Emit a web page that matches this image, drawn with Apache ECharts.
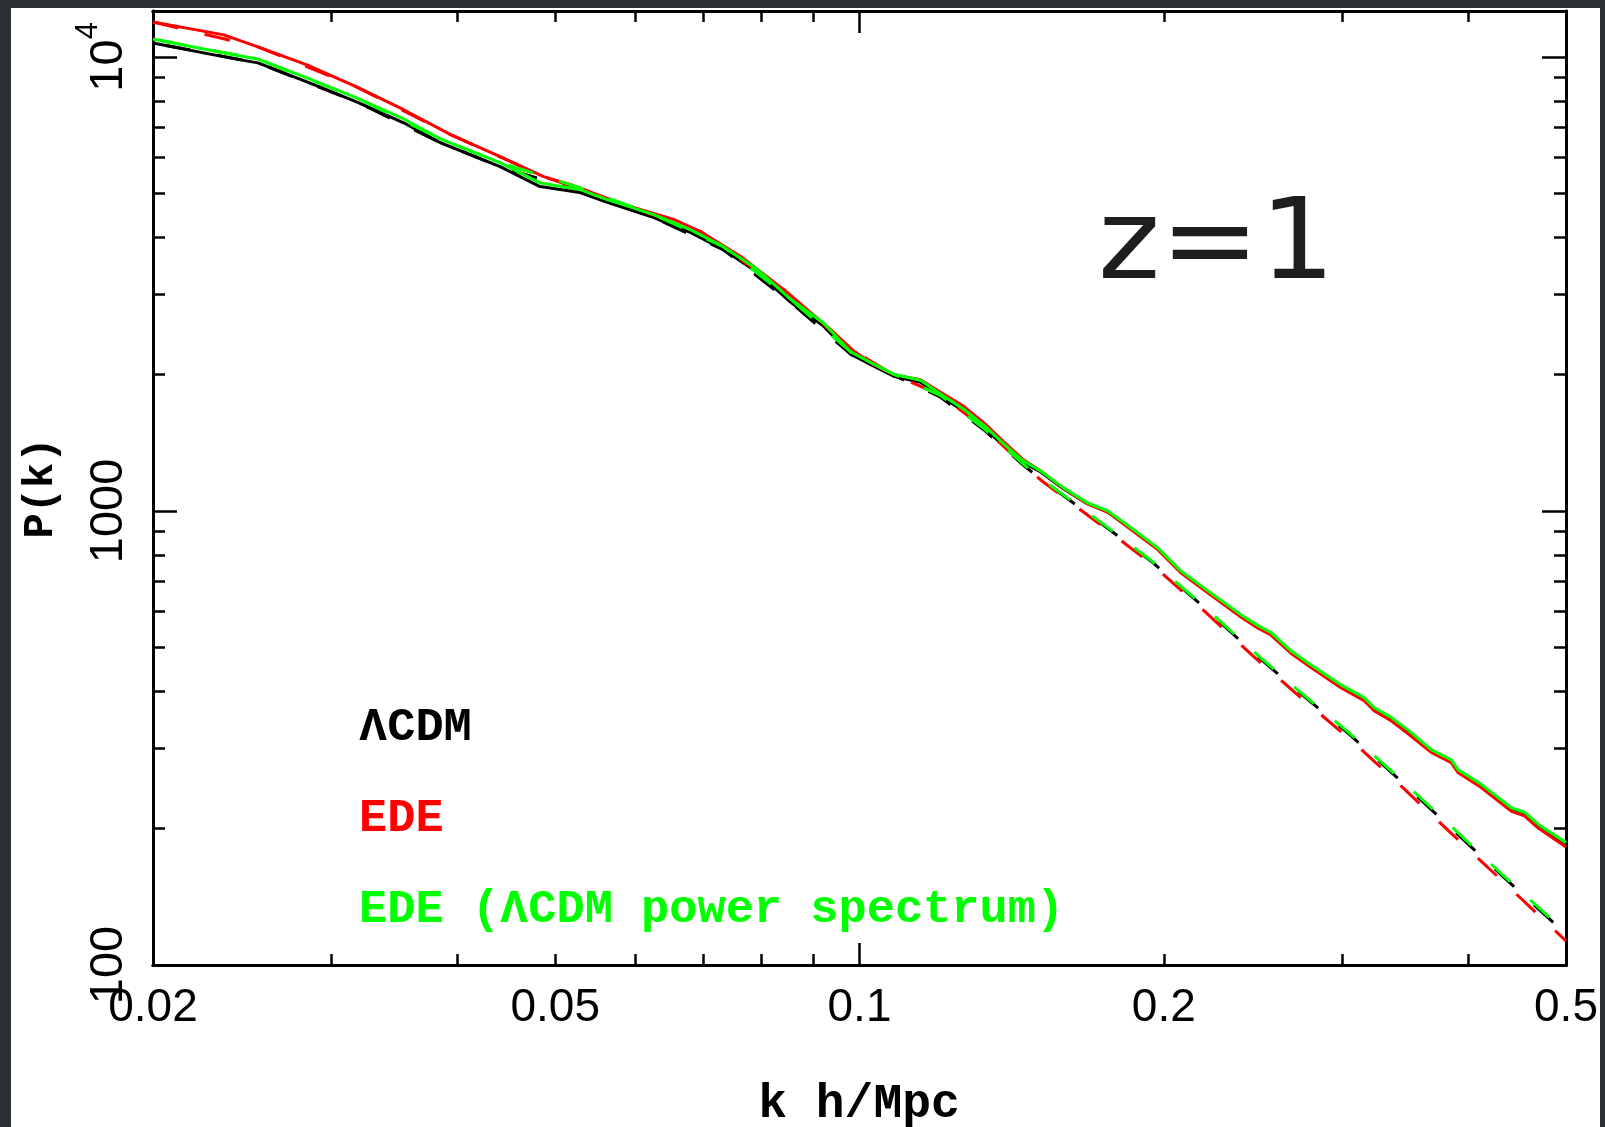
<!DOCTYPE html>
<html><head><meta charset="utf-8">
<script src="https://cdn.jsdelivr.net/npm/echarts@6/dist/echarts.min.js"></script>
<style>
html,body{margin:0;padding:0;background:#2c3034;width:1605px;height:1127px;overflow:hidden;}
#paper{position:absolute;left:11px;top:8px;width:1589px;height:1119px;background:#fff;}
#c{position:absolute;left:0;top:0;width:1605px;height:1127px;}
</style></head>
<body><div id="paper"></div><div id="c"></div>
<script>
// ---- data (k in h/Mpc, P(k)) ----
const kNL = [0.0200,0.0238,0.0254,0.0284,0.0318,0.0354,0.0385,0.0441,0.0483,0.0529,0.0563,0.0625,0.0681,0.0733,0.0793,0.0855,0.0922,0.0980,0.1033,0.1081,0.1149,0.1203,0.1268,0.1327,0.1389,0.1450,0.1511,0.1592,0.1682,0.1761,0.1856,0.1973,0.2079,0.2211,0.2384,0.2479,0.2553,0.2672,0.2797,0.2994,0.3157,0.3229,0.3357,0.3490,0.3678,0.3850,0.3912,0.4122,0.4415,0.4548,0.4696,0.5000];
const pLcdm = [10730,9950,9700,8810,7960,7160,6470,5730,5180,5025,4780,4430,4100,3765,3350,2880,2550,2215,2083,1980,1920,1790,1660,1530,1390,1280,1218,1118,1036,995,913,825,734,664,588,556,537,490,456,412,386,367,349,327,297,282,268,249,221,216,203,185];
const pEdeLps = [10950,10150,9890,8990,8120,7300,6600,5850,5280,5100,4850,4500,4160,3820,3400,2925,2590,2240,2105,2000,1940,1810,1675,1545,1405,1293,1225,1124,1041,1000,918,829,738,667,591,559,540,492,458,414,388,369,351,329,298,283,269,250,222,217,204,186];
const kEde = [0.0200,0.0235,0.0254,0.0284,0.0318,0.0354,0.0394,0.0441,0.0487,0.0518,0.0584,0.0655,0.0696,0.0763,0.0841,0.0936,0.0987,0.1033,0.1081,0.1149,0.1203,0.1268,0.1327,0.1389,0.1450,0.1511,0.1592,0.1682,0.1761,0.1856,0.1973,0.2079,0.2211,0.2384,0.2479,0.2553,0.2672,0.2797,0.2994,0.3157,0.3229,0.3357,0.3490,0.3678,0.3850,0.3912,0.4122,0.4415,0.4548,0.4696,0.5000];
const pEde = [11940,11180,10520,9600,8590,7650,6740,6030,5450,5230,4730,4385,4125,3635,3075,2510,2250,2100,1995,1945,1825,1700,1565,1420,1300,1225,1120,1036,993,910,822,731,660,584,552,533,486,452,408,382,363,345,323,294,279,265,246,218,213,200,182];
// linear (dashed)
const kLin = [0.0200,0.0254,0.0318,0.0385,0.0441,0.0529,0.0625,0.0733,0.0855,0.0980,0.1081,0.1203,0.1327,0.1450,0.1511,0.1732,0.1942,0.2176,0.2441,0.2733,0.3063,0.3433,0.3850,0.4314,0.5000];
const pLinLcdm = [10730,9700,7960,6470,5730,5060,4430,3765,2880,2215,1990,1780,1510,1265,1176,941,776,622,492,396,320,254,200,158,117];
const pLinEdeLps = [10950,9890,8120,6600,5850,5150,4500,3820,2925,2240,2000,1795,1520,1272,1180,945,779,625,495,398,322,256,202,159,118];
const kLinEde = [0.0200,0.0254,0.0318,0.0394,0.0487,0.0584,0.0696,0.0841,0.0987,0.1081,0.1203,0.1327,0.1450,0.1511,0.1732,0.1942,0.2176,0.2441,0.2733,0.3063,0.3433,0.3850,0.4314,0.5000];
const pLinEde = [11940,10520,8590,6740,5450,4730,4125,3075,2250,1995,1800,1525,1270,1170,932,766,612,483,388,313,248,195,154,113];

const names = ['ΛCDM', 'EDE', 'EDE (ΛCDM power spectrum)'];
const xLabelVals = [0.02, 0.05, 0.1, 0.2, 0.5];
const xMinorTicks = [0.02,0.03,0.04,0.05,0.06,0.07,0.08,0.09,0.1,0.2,0.3,0.4,0.5];
const xMajorTicks = [0.1];
const yLabelVals = [100, 1000, 10000];
const yMinorTicks = [200,300,400,500,600,700,800,900,2000,3000,4000,5000,6000,7000,8000,9000];
const yMajorTicks = [100, 1000, 10000];

const zip = (a, b) => a.map((v, i) => [v, b[i]]);
const BLACK = '#000000', RED = '#ff0000', GREEN = '#00ff00';
const DASH = [26, 27];

const chart = echarts.init(document.getElementById('c'), null, {renderer: 'canvas'});
const gridRect = {left: 153, top: 11, width: 1413, height: 954};
const axLine = {show: true, onZero: false, lineStyle: {color: '#000', width: 3}};
const tickStyle = {color: '#000', width: 2.5};

function xAx(gi, pos, ticks, len, labels) {
  return {
    type: 'log', logBase: 10, min: 0.02, max: 0.5, gridIndex: gi, position: pos,
    axisLine: axLine,
    axisTick: {show: true, inside: true, length: len, lineStyle: tickStyle, customValues: ticks},
    axisLabel: labels ? {show: true, customValues: xLabelVals, margin: 20, color: '#000',
      fontFamily: 'Liberation Sans', fontSize: 46, formatter: v => String(+(+v).toPrecision(3))} : {show: false},
    splitLine: {show: false}, minorTick: {show: false}
  };
}
function yAx(gi, pos, ticks, len, labels) {
  return {
    type: 'log', logBase: 10, min: 100, max: 12620, gridIndex: gi, position: pos,
    axisLine: axLine,
    axisTick: {show: true, inside: true, length: len, lineStyle: tickStyle, customValues: ticks},
    axisLabel: labels ? {show: true, customValues: yLabelVals, rotate: 90, margin: 20, color: '#000',
      fontFamily: 'Liberation Sans', fontSize: 47,
      formatter: v => (Math.round(v) === 10000 ? '{a|10}{b|4}' : String(Math.round(v))),
      rich: {a: {fontSize: 47, fontFamily: 'Liberation Sans', lineHeight: 60, verticalAlign: 'bottom'},
             b: {fontSize: 31, fontFamily: 'Liberation Sans', lineHeight: 60, verticalAlign: 'top'}}} : {show: false},
    splitLine: {show: false}, minorTick: {show: false}
  };
}

function line(name, x, y, color, dashed, z, offset) {
  return {
    name, type: 'line', xAxisIndex: 0, yAxisIndex: 0, data: zip(x, y),
    showSymbol: false, symbol: 'none', smooth: false, z, silent: true,
    lineStyle: {color, width: 3, type: dashed ? DASH : 'solid', dashOffset: offset || 0},
    itemStyle: {color}
  };
}

chart.setOption({
  animation: false,
  backgroundColor: 'transparent',
  grid: [Object.assign({}, gridRect), Object.assign({}, gridRect)],
  xAxis: [
    xAx(0, 'bottom', xMinorTicks, 11, true),
    xAx(0, 'top', xMinorTicks, 11, false),
    xAx(1, 'bottom', xMajorTicks, 22, false),
    xAx(1, 'top', xMajorTicks, 22, false)
  ],
  yAxis: [
    Object.assign(yAx(0, 'left', yMinorTicks, 12, true), {
      name: 'P(k)', nameLocation: 'middle', nameGap: 91, nameRotate: 90,
      nameTextStyle: {fontFamily: 'Liberation Mono', fontWeight: 'bold', fontSize: 42, color: '#000'}}),
    yAx(0, 'right', yMinorTicks, 12, false),
    yAx(1, 'left', yMajorTicks, 24, false),
    yAx(1, 'right', yMajorTicks, 24, false)
  ],
  legend: {
    orient: 'vertical', left: 349, top: 698, icon: 'none', itemWidth: 0, itemHeight: 0, itemGap: 41,
    selectedMode: false,
    textStyle: {fontFamily: 'Liberation Mono', fontWeight: 'bold', fontSize: 47, lineHeight: 50},
    data: [
      {name: names[0], textStyle: {color: BLACK}},
      {name: names[1], textStyle: {color: RED}},
      {name: names[2], textStyle: {color: GREEN}}
    ]
  },
  graphic: [
    {type: 'text', x: 1098, y: 192, scaleX: 1.05, silent: true,
     style: {text: 'z=1', font: '113px "DejaVu Sans"', fill: '#1e1e1e', align: 'left', verticalAlign: 'top'}},
    {type: 'text', x: 859, y: 1081, silent: true,
     style: {text: 'k h/Mpc', font: 'bold 48px "Liberation Mono"', fill: '#000', align: 'center', verticalAlign: 'top'}}
  ],
  series: [
    line(names[0], kLin, pLinLcdm, BLACK, true, 2, -12),
    line(names[0], kNL, pLcdm, BLACK, false, 3),
    line(names[1], kLinEde, pLinEde, RED, true, 4, 0),
    line(names[1], kEde, pEde, RED, false, 5),
    line(names[2], kLin, pLinEdeLps, GREEN, true, 6, -8),
    line(names[2], kNL, pEdeLps, GREEN, false, 7)
  ]
});
</script>
</body></html>
